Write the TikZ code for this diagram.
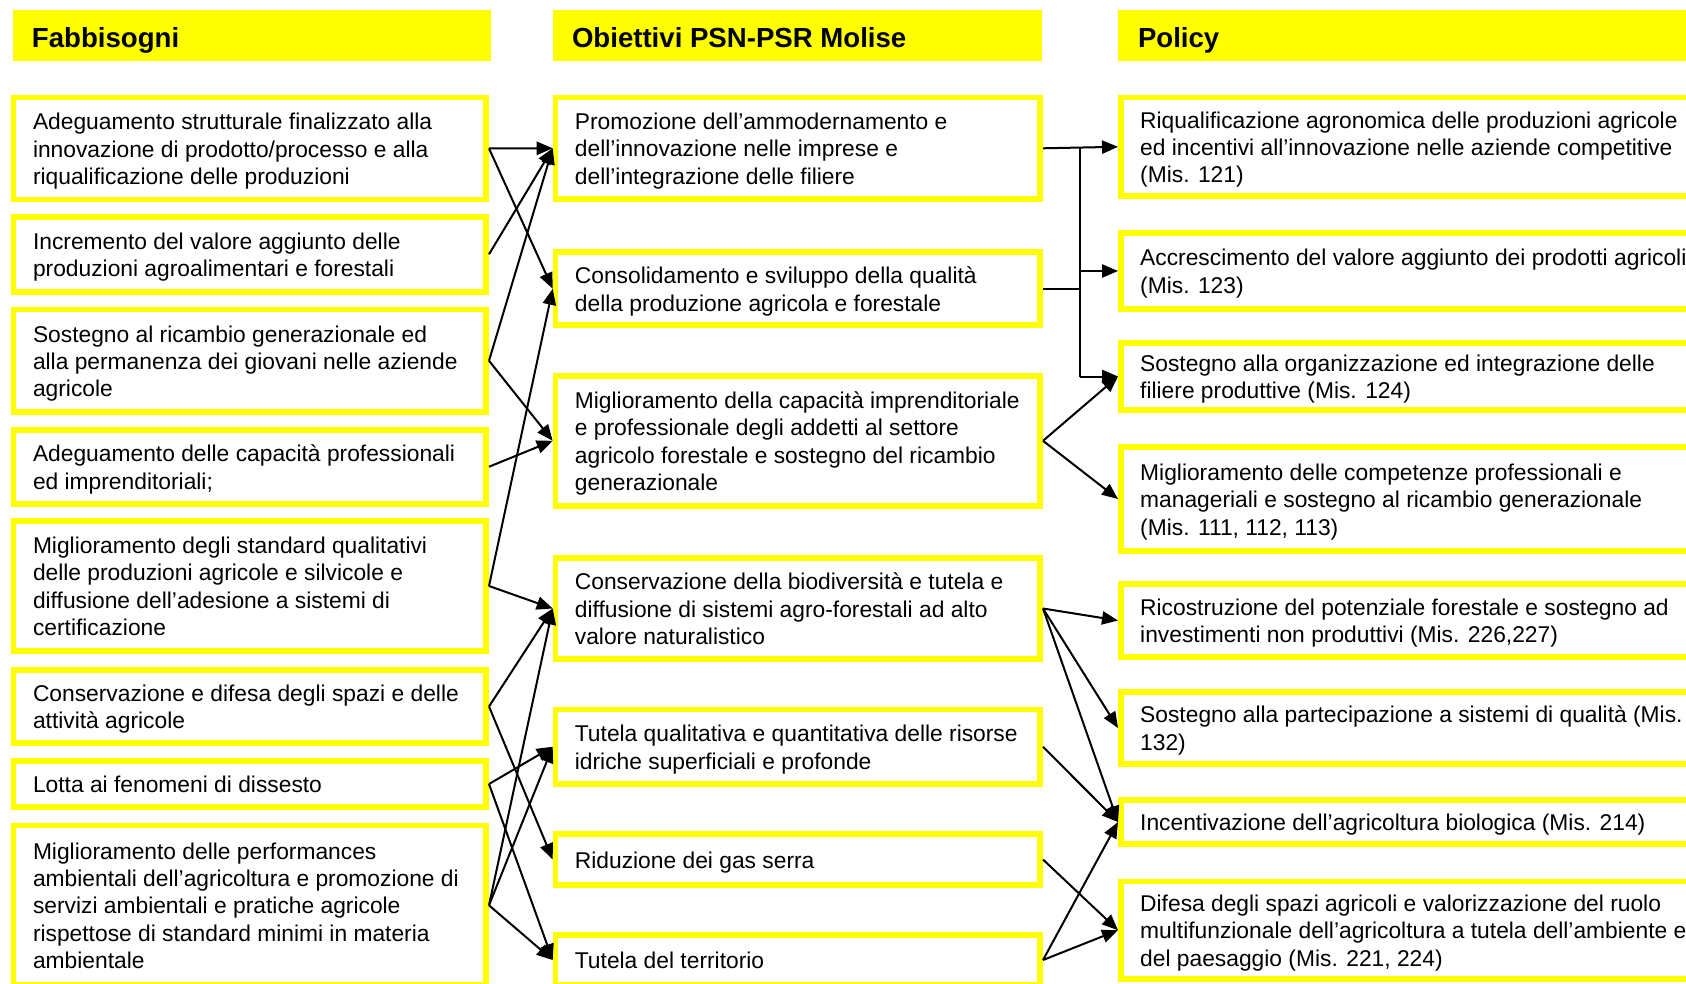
\documentclass[tikz,border=0pt]{standalone}
\usepackage{fontspec}
\setmainfont{Liberation Sans}
\usetikzlibrary{arrows.meta}
\newcommand\LT[1]{\makebox[216.9pt][l]{\raisebox{-1.6pt}[\height][\depth]{\begin{tabular}{@{}l@{}}#1\end{tabular}}}}
\newcommand\MT[1]{\makebox[222.95pt][l]{\raisebox{-1.6pt}[\height][\depth]{\begin{tabular}{@{}l@{}}#1\end{tabular}}}}
\newcommand\RT[1]{\makebox[293.8pt][l]{\raisebox{-1.6pt}[\height][\depth]{\begin{tabular}{@{}l@{}}#1\end{tabular}}}}
\definecolor{ylw}{RGB}{255,255,0}
\tikzset{
  box/.style={draw=ylw, line width=2.8pt, fill=white, inner xsep=9.7pt, inner ysep=0pt,
    font=\fontsize{11.4}{13.7}\selectfont},
  lbox/.style={box, minimum width=236.3pt},
  mbox/.style={box, minimum width=242.35pt},
  rbox/.style={box, minimum width=313.2pt},
  head/.style={fill=ylw, inner ysep=0pt, text height=12.6pt, text depth=1pt,
    minimum height=25.5pt, font=\fontsize{13.8}{16}\selectfont\bfseries},
  conn/.style={line width=1pt, black},
  arr/.style={conn, -{Triangle[length=8pt,width=6.6pt]}}
}
\begin{document}
\begin{tikzpicture}[x=0.5pt,y=-0.5pt]
\useasboundingbox (0,0) rectangle (1686,984);
\clip (0,0) rectangle (1686,984);
% headers
\node[head, minimum width=239pt, inner xsep=9.5pt] (h1) at (252,35.5) {\makebox[220pt][l]{Fabbisogni}};
\node[head, minimum width=244.5pt, inner xsep=9.5pt] (h2) at (797.5,35.5) {\makebox[225.5pt][l]{Obiettivi PSN-PSR Molise}};
\node[head, minimum width=316pt, inner xsep=10pt] (h3) at (1434,35.5) {\makebox[296pt][l]{Policy}};
% left column
\node[lbox, minimum height=51pt] (L1) at (249.9,148.4) {\LT{Adeguamento strutturale finalizzato alla\\innovazione di prodotto/processo e alla\\riqualificazione delle produzioni}};
\node[lbox, minimum height=37.5pt] (L2) at (249.9,254.3) {\LT{Incremento del valore aggiunto delle\\produzioni agroalimentari e forestali}};
\node[lbox, minimum height=51.45pt] (L3) at (249.9,360.75) {\LT{Sostegno al ricambio generazionale ed\\alla permanenza dei giovani nelle aziende\\agricole}};
\node[lbox, minimum height=36.95pt] (L4) at (249.9,466.75) {\LT{Adeguamento delle capacità professionali\\ed imprenditoriali;}};
\node[lbox, minimum height=65.2pt] (L5) at (249.9,586) {\LT{Miglioramento degli standard qualitativi\\delle produzioni agricole e silvicole e\\diffusione dell’adesione a sistemi di\\certificazione}};
\node[lbox, minimum height=36.7pt] (L6) at (249.9,706.5) {\LT{Conservazione e difesa degli spazi e delle\\attività agricole}};
\node[lbox, minimum height=23.2pt] (L7) at (249.9,784) {\LT{Lotta ai fenomeni di dissesto}};
\node[lbox, minimum height=79.9pt] (L8) at (249.9,905.3) {\LT{Miglioramento delle performances\\ambientali dell’agricoltura e promozione di\\servizi ambientali e pratiche agricole\\rispettose di standard minimi in materia\\ambientale}};
% middle column
\node[mbox, minimum height=50.9pt] (M1) at (797.85,148.3) {\MT{Promozione dell’ammodernamento e\\dell’innovazione nelle imprese e\\dell’integrazione delle filiere}};
\node[mbox, minimum height=36.45pt] (M2) at (797.85,288.75) {\MT{Consolidamento e sviluppo della qualità\\della produzione agricola e forestale}};
\node[mbox, minimum height=65pt] (M3) at (797.85,440.8) {\MT{Miglioramento della capacità imprenditoriale\\e professionale degli addetti al settore\\agricolo forestale e sostegno del ricambio\\generazionale}};
\node[mbox, minimum height=50.7pt] (M4) at (797.85,608.5) {\MT{Conservazione della biodiversità e tutela e\\diffusione di sistemi agro-forestali ad alto\\valore naturalistico}};
\node[mbox, minimum height=37.45pt] (M5) at (797.85,746.75) {\MT{Tutela qualitativa e quantitativa delle risorse\\idriche superficiali e profonde}};
\node[mbox, minimum height=25.7pt] (M6) at (797.85,859.5) {\MT{Riduzione dei gas serra}};
\node[mbox, minimum height=25.2pt] (M7) at (797.85,960) {\MT{Tutela del territorio}};
% right column
\node[rbox, minimum height=49.4pt] (R1) at (1434,146.8) {\RT{Riqualificazione agronomica delle produzioni agricole\\ed incentivi all’innovazione nelle aziende competitive\\(Mis. 121)}};
\node[rbox, minimum height=38.2pt] (R2) at (1434,271) {\RT{Accrescimento del valore aggiunto dei prodotti agricoli\\(Mis. 123)}};
\node[rbox, minimum height=33.7pt] (R3) at (1434,376.5) {\RT{Sostegno alla organizzazione ed integrazione delle\\filiere produttive (Mis. 124)}};
\node[rbox, minimum height=52.2pt] (R4) at (1434,499) {\RT{Miglioramento delle competenze professionali e\\manageriali e sostegno al ricambio generazionale\\(Mis. 111, 112, 113)}};
\node[rbox, minimum height=36.7pt] (R5) at (1434,620.5) {\RT{Ricostruzione del potenziale forestale e sostegno ad\\investimenti non produttivi (Mis. 226,227)}};
\node[rbox, minimum height=36.2pt] (R6) at (1434,728) {\RT{Sostegno alla partecipazione a sistemi di qualità (Mis.\\132)}};
\node[rbox, minimum height=22.2pt] (R7) at (1434,822) {\RT{Incentivazione dell’agricoltura biologica (Mis. 214)}};
\node[rbox, minimum height=48.95pt] (R8) at (1434,930.25) {\RT{Difesa degli spazi agricoli e valorizzazione del ruolo\\multifunzionale dell’agricoltura a tutela dell’ambiente e\\del paesaggio (Mis. 221, 224)}};
% left -> middle
\draw[arr] (L1.east) -- (M1.west);
\draw[arr] (L1.east) -- (M2.west);
\draw[arr] (L2.east) -- (M1.west);
\draw[arr] (L3.east) -- (M1.west);
\draw[arr] (L3.east) -- (M3.west);
\draw[arr] (L4.east) -- (M3.west);
\draw[arr] (L5.east) -- (M2.west);
\draw[arr] (L5.east) -- (M4.west);
\draw[arr] (L6.east) -- (M4.west);
\draw[arr] (L6.east) -- (M6.west);
\draw[arr] (L7.east) -- (M5.west);
\draw[arr] (L7.east) -- (M7.west);
\draw[arr] (L8.east) -- (M4.west);
\draw[arr] (L8.east) -- (M5.west);
\draw[arr] (L8.east) -- (M7.west);
% middle -> right
\coordinate (J) at (1080,0);
\draw[arr] (M1.east) -- (R1.west);
\draw[conn] (J |- M1.east) -- (J |- R3.west);
\draw[conn] (M2.east) -- (J |- M2.east);
\draw[arr] (J |- R2.west) -- (R2.west);
\draw[arr] (J |- R3.west) -- (R3.west);
\draw[arr] (M3.east) -- (R3.west);
\draw[arr] (M3.east) -- (R4.west);
\draw[arr] (M4.east) -- (R5.west);
\draw[arr] (M4.east) -- (R6.west);
\draw[arr] (M4.east) -- (R7.west);
\draw[arr] (M5.east) -- (R7.west);
\draw[arr] (M6.east) -- (R8.west);
\draw[arr] (M7.east) -- (R7.west);
\draw[arr] (M7.east) -- (R8.west);
\end{tikzpicture}
\end{document}
